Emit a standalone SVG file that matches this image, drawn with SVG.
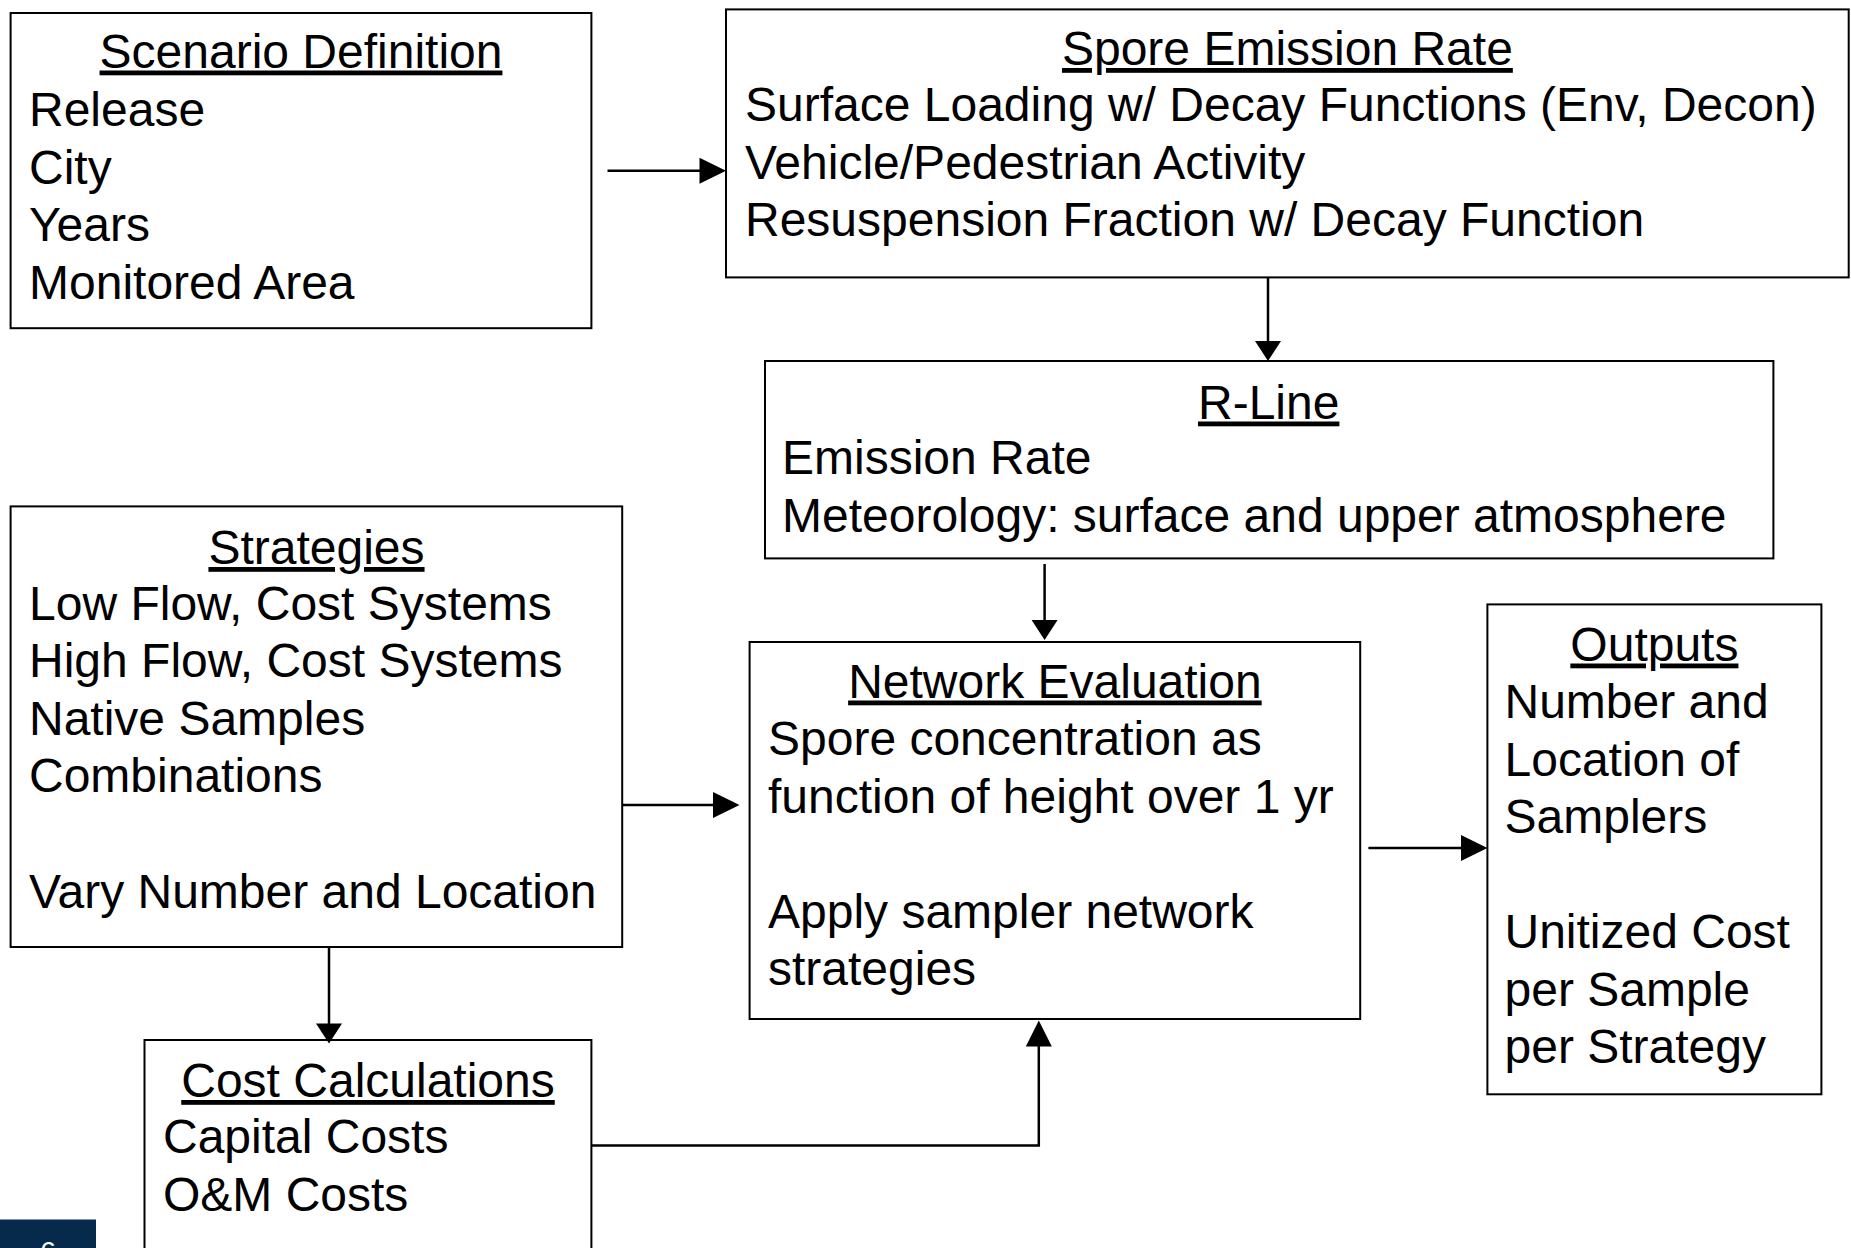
<svg xmlns="http://www.w3.org/2000/svg" width="1851" height="1248" viewBox="0 0 1851 1248">
  <style>
    .box { fill: #ffffff; stroke: #000000; stroke-width: 2; }
    .txt { font-family: "Liberation Sans", Arial, sans-serif; font-size: 48px; fill: #000000; }
    .ttl { text-anchor: middle; text-decoration: underline; }
    .wire { fill: none; stroke: #000000; stroke-width: 2.5; }
    .head { fill: #000000; stroke: none; }
  </style>

  <rect width="1851" height="1248" fill="#ffffff"/>

  <!-- Scenario definition -->
  <g id="scenario">
    <rect class="box" x="10.6" y="13" width="580.8" height="315.2"/>
    <text class="txt ttl" x="301" y="67.5">Scenario Definition</text>
    <text class="txt" x="29" y="126">Release</text>
    <text class="txt" x="29" y="183.5">City</text>
    <text class="txt" x="29" y="241">Years</text>
    <text class="txt" x="29" y="298.5">Monitored Area</text>
  </g>

  <!-- Spore emission rate -->
  <g id="emission">
    <rect class="box" x="726" y="9.4" width="1122.7" height="268"/>
    <text class="txt ttl" x="1287.4" y="65">Spore Emission Rate</text>
    <text class="txt" x="745" y="121">Surface Loading w/ Decay Functions (Env, Decon)</text>
    <text class="txt" x="745" y="178.5">Vehicle/Pedestrian Activity</text>
    <text class="txt" x="745" y="236">Resuspension Fraction w/ Decay Function</text>
  </g>

  <!-- R-Line dispersion model -->
  <g id="rline">
    <rect class="box" x="765" y="361" width="1008.4" height="197.4"/>
    <text class="txt ttl" x="1268.7" y="418.5">R-Line</text>
    <text class="txt" x="782" y="474">Emission Rate</text>
    <text class="txt" x="782" y="531.5">Meteorology: surface and upper atmosphere</text>
  </g>

  <!-- Sampling strategies -->
  <g id="strategies">
    <rect class="box" x="10.6" y="506.4" width="611.6" height="440.6"/>
    <text class="txt ttl" x="316.5" y="564">Strategies</text>
    <text class="txt" x="29" y="619.5">Low Flow, Cost Systems</text>
    <text class="txt" x="29" y="677">High Flow, Cost Systems</text>
    <text class="txt" x="29" y="734.5">Native Samples</text>
    <text class="txt" x="29" y="792">Combinations</text>
    <text class="txt" x="29" y="907.5">Vary Number and Location</text>
  </g>

  <!-- Network evaluation -->
  <g id="network">
    <rect class="box" x="749.6" y="642" width="610.6" height="377"/>
    <text class="txt ttl" x="1054.9" y="697.5">Network Evaluation</text>
    <text class="txt" x="768" y="755">Spore concentration as</text>
    <text class="txt" x="768" y="812.5">function of height over 1 yr</text>
    <text class="txt" x="768" y="927.5">Apply sampler network</text>
    <text class="txt" x="768" y="985">strategies</text>
  </g>

  <!-- Outputs -->
  <g id="outputs">
    <rect class="box" x="1487.4" y="604.4" width="334" height="489.9"/>
    <text class="txt ttl" x="1654.4" y="660.5">Outputs</text>
    <text class="txt" x="1504.5" y="718">Number and</text>
    <text class="txt" x="1504.5" y="775.5">Location of</text>
    <text class="txt" x="1504.5" y="833">Samplers</text>
    <text class="txt" x="1504.5" y="948">Unitized Cost</text>
    <text class="txt" x="1504.5" y="1005.5">per Sample</text>
    <text class="txt" x="1504.5" y="1063">per Strategy</text>
  </g>

  <!-- Cost calculations -->
  <g id="costs">
    <rect class="box" x="144.5" y="1040" width="446.9" height="230"/>
    <text class="txt ttl" x="368" y="1097">Cost Calculations</text>
    <text class="txt" x="163" y="1153">Capital Costs</text>
    <text class="txt" x="163" y="1211">O&amp;M Costs</text>
  </g>

  <!-- Connectors -->
  <g id="connectors">
    <path class="wire" d="M607.5,170.7 H701"/>
    <polygon class="head" points="726,170.7 699.5,157.7 699.5,183.7"/>

    <path class="wire" d="M1268,277.4 V343"/>
    <polygon class="head" points="1268,361 1255,341 1281,341"/>

    <path class="wire" d="M1044.6,564 V622"/>
    <polygon class="head" points="1044.6,640 1031.6,620 1057.6,620"/>

    <path class="wire" d="M622,805 H714"/>
    <polygon class="head" points="739.5,805 713,792 713,818"/>

    <path class="wire" d="M1368.4,848 H1462"/>
    <polygon class="head" points="1487.4,848 1461,835 1461,861"/>

    <path class="wire" d="M329,947 V1025"/>
    <polygon class="head" points="329,1043.5 316,1023.5 342,1023.5"/>

    <path class="wire" d="M591.4,1145.5 H1038.8 V1045"/>
    <polygon class="head" points="1038.8,1020.5 1025.8,1046.5 1051.8,1046.5"/>
  </g>

  <!-- Page number tab -->
  <g id="page-tab">
    <rect x="0" y="1219.5" width="96" height="30" fill="#062a4c"/>
    <text x="48" y="1261" text-anchor="middle" font-family="Liberation Sans, Arial, sans-serif" font-size="28" fill="#ffffff">6</text>
  </g>
</svg>
